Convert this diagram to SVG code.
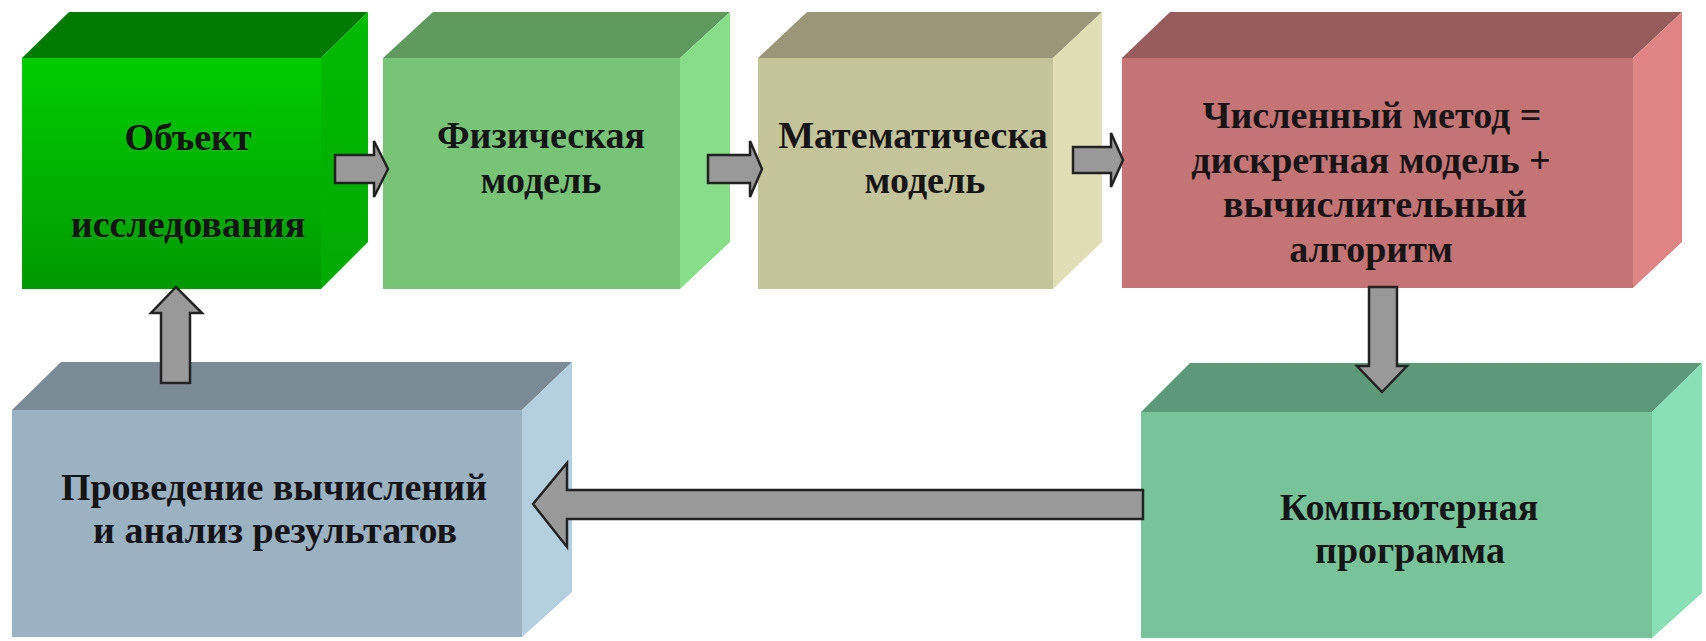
<svg xmlns="http://www.w3.org/2000/svg" width="1706" height="641" viewBox="0 0 1706 641">
<defs>
<linearGradient id="g1" x1="0" y1="0" x2="0" y2="1">
<stop offset="0" stop-color="#00CC00"/>
<stop offset="1" stop-color="#009900"/>
</linearGradient>
<linearGradient id="g1r" x1="0" y1="0" x2="0" y2="1">
<stop offset="0" stop-color="#00BB00"/>
<stop offset="1" stop-color="#00AA00"/>
</linearGradient>
</defs>
<style>
text{font-family:"Liberation Serif","Times New Roman",serif;font-weight:bold;font-size:38px;fill:#141414;text-anchor:middle}
.arrow{fill:#999999;stroke:#222222;stroke-width:2.5;stroke-linejoin:miter}
</style>
<rect width="1706" height="641" fill="#ffffff"/>

<g id="node-object">
<polygon points="22,58 69,12 368,12 321,58" fill="#007A00"/>
<polygon points="321,58 368,12 368,242 321,289" fill="url(#g1r)"/>
<rect x="22" y="58" width="299" height="231" fill="url(#g1)"/>
<text x="188" y="150">Объект</text>
<text x="188" y="237">исследования</text>
</g>

<g id="node-physical">
<polygon points="383,58 433,12 730,12 680,58" fill="#5E9A5E"/>
<polygon points="680,58 730,12 730,242 680,289" fill="#88DD88"/>
<rect x="383" y="58" width="297" height="231" fill="#77C477"/>
<text x="541" y="148">Физическая</text>
<text x="541" y="193">модель</text>
</g>

<g id="node-math">
<polygon points="758,58 807,12 1102,12 1053,58" fill="#999778"/>
<polygon points="1053,58 1102,12 1102,242 1053,289" fill="#E0DEB5"/>
<rect x="758" y="58" width="295" height="231" fill="#C4C49A"/>
<text x="913" y="148">Математическа</text>
<text x="925" y="193">модель</text>
</g>

<g id="node-numeric">
<polygon points="1122,58 1170,12 1682,12 1633,58" fill="#995C5C"/>
<polygon points="1633,58 1682,12 1682,242 1633,288" fill="#E08585"/>
<rect x="1122" y="58" width="511" height="230" fill="#C47474"/>
<text x="1372" y="128">Численный метод =</text>
<text x="1371" y="173">дискретная модель +</text>
<text x="1375" y="217">вычислительный</text>
<text x="1371" y="262">алгоритм</text>
</g>

<g id="node-program">
<polygon points="1141,412 1190,363 1702,363 1652,412" fill="#5C9978"/>
<polygon points="1652,412 1702,363 1702,593 1652,638" fill="#88E0B4"/>
<rect x="1141" y="412" width="511" height="226" fill="#77C49A"/>
<text x="1409" y="520">Компьютерная</text>
<text x="1410" y="563">программа</text>
</g>

<g id="node-analysis">
<polygon points="12,410 61,362 572,362 522,410" fill="#7A8B96"/>
<polygon points="522,410 572,362 572,592 522,637" fill="#B4CFE0"/>
<rect x="12" y="410" width="510" height="227" fill="#9BB2C2"/>
<text x="274" y="500">Проведение вычислений</text>
<text x="275" y="543">и анализ результатов</text>
</g>

<g id="connectors">
<polygon class="arrow" points="335,155 374,155 374,141 388,169 374,197 374,183 335,183"/>
<polygon class="arrow" points="708,155 750,155 750,141 762,169 750,197 750,183 708,183"/>
<polygon class="arrow" points="1073,147 1111,147 1111,133 1123,160 1111,187 1111,173 1073,173"/>
<polygon class="arrow" points="1369,287 1397,287 1397,366 1407,366 1382,392 1357,366 1369,366"/>
<polygon class="arrow" points="1143,490 567,490 567,463 533,504 567,547 567,519 1143,519"/>
<polygon class="arrow" points="161,383 161,313 151,313 176,287 202,313 190,313 190,383"/>
</g>
</svg>
